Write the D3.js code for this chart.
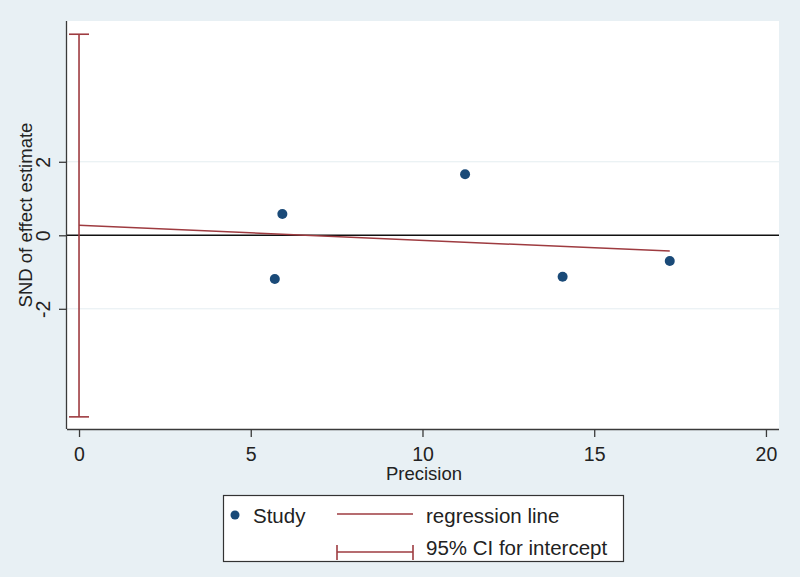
<!DOCTYPE html>
<html>
<head>
<meta charset="utf-8">
<script src="https://cdn.jsdelivr.net/npm/d3@7"></script>
<style>
  html, body { margin: 0; padding: 0; background: #e8f0f4; }
  svg { display: block; }
  text { font-family: "Liberation Sans", Arial, Helvetica, sans-serif; fill: #222; }
</style>
</head>
<body>
<svg id="chart" width="800" height="577"></svg>
<script>
// ---- data ----
const precision = [5.70, 5.92, 11.24, 14.08, 17.20];
const snd       = [-1.19, 0.58, 1.66, -1.13, -0.70];
const regX      = [0, 17.2];
const regY      = [0.27, -0.43];
const ciBounds  = [-4.94, 5.47];
const xTicks    = [0, 5, 10, 15, 20];
const yTicks    = [-2, 0, 2];
const legendLabels = ["Study", "regression line", "95% CI for intercept"];

// ---- layout ----
const W = 800, H = 577;
const plot = { left: 67, right: 779, top: 21, bottom: 429 };
const red = "#9e3b40", navy = "#1a4a78", axisCol = "#3a3a3a";

const svg = d3.select("#chart");
svg.append("rect").attr("width", W).attr("height", H).attr("fill", "#e8f0f4");
svg.append("rect")
  .attr("x", plot.left).attr("y", plot.top)
  .attr("width", plot.right - plot.left).attr("height", plot.bottom - plot.top)
  .attr("fill", "#ffffff");

const x = d3.scaleLinear().domain([-0.35, 20.38]).range([plot.left, plot.right]);
const y = d3.scaleLinear().domain([-5.27, 5.83]).range([plot.bottom, plot.top]);
const fmt = d => String(d);

// gridlines
svg.append("g").selectAll("line").data(yTicks.filter(d => d !== 0)).join("line")
  .attr("x1", plot.left).attr("x2", plot.right)
  .attr("y1", d => y(d)).attr("y2", d => y(d))
  .attr("stroke", "#e4edf1").attr("stroke-width", 1);

// zero line
svg.append("line")
  .attr("x1", plot.left).attr("x2", plot.right)
  .attr("y1", y(0)).attr("y2", y(0))
  .attr("stroke", "#111").attr("stroke-width", 1.6);

// regression line
const line = d3.line().x(d => x(d[0])).y(d => y(d[1]));
svg.append("path")
  .datum(regX.map((v, i) => [v, regY[i]]))
  .attr("d", line).attr("fill", "none")
  .attr("stroke", red).attr("stroke-width", 1.5);

// CI for intercept
const ci = svg.append("g").attr("stroke", red).attr("stroke-width", 1.6);
ci.append("line").attr("x1", x(0)).attr("x2", x(0))
  .attr("y1", y(ciBounds[0])).attr("y2", y(ciBounds[1]));
ci.selectAll("line.cap").data(ciBounds).join("line").attr("class", "cap")
  .attr("x1", x(0) - 10).attr("x2", x(0) + 10)
  .attr("y1", d => y(d)).attr("y2", d => y(d));

// points
svg.append("g").selectAll("circle").data(precision).join("circle")
  .attr("cx", d => x(d)).attr("cy", (d, i) => y(snd[i]))
  .attr("r", 5).attr("fill", navy);

// x axis
const xAxis = svg.append("g").attr("transform", `translate(0,${plot.bottom})`)
  .call(d3.axisBottom(x).tickValues(xTicks).tickSize(8).tickPadding(10).tickFormat(fmt));
xAxis.select(".domain").attr("d", `M${plot.left},0.5H${plot.right}`).attr("stroke", axisCol).attr("stroke-width", 1.3);
xAxis.selectAll(".tick line").attr("stroke", axisCol).attr("stroke-width", 1.3);
xAxis.selectAll(".tick text").attr("font-size", 19.5).attr("fill", "#222")
  .attr("font-family", "Liberation Sans, Arial, sans-serif")
  .attr("dy", null).attr("y", 32);

// y axis
const yAxis = svg.append("g").attr("transform", `translate(${plot.left},0)`)
  .call(d3.axisLeft(y).tickValues(yTicks).tickSize(8).tickFormat(fmt));
yAxis.select(".domain").attr("d", `M-0.5,${plot.top}V${plot.bottom}`).attr("stroke", axisCol).attr("stroke-width", 1.3);
yAxis.selectAll(".tick line").attr("stroke", axisCol).attr("stroke-width", 1.3);
yAxis.selectAll(".tick text").attr("font-size", 19.5).attr("fill", "#222")
  .attr("font-family", "Liberation Sans, Arial, sans-serif")
  .attr("x", null).attr("dy", null)
  .attr("text-anchor", "middle")
  .attr("transform", "translate(-17,0) rotate(-90)");

// axis titles
svg.append("text").attr("x", 424).attr("y", 480).attr("text-anchor", "middle")
  .attr("font-size", 18.5).text("Precision");
svg.append("text").attr("transform", "translate(32,215) rotate(-90)")
  .attr("text-anchor", "middle").attr("font-size", 18.5).text("SND of effect estimate");

// legend
const lg = svg.append("g");
lg.append("rect").attr("x", 223.5).attr("y", 495.5).attr("width", 400).attr("height", 66)
  .attr("fill", "#ffffff").attr("stroke", "#333").attr("stroke-width", 1.2);
lg.append("circle").attr("cx", 235).attr("cy", 515).attr("r", 4.5).attr("fill", navy);
lg.append("text").attr("x", 253).attr("y", 523).attr("font-size", 20.5).text(legendLabels[0]);
lg.append("line").attr("x1", 337).attr("x2", 413).attr("y1", 514).attr("y2", 514)
  .attr("stroke", red).attr("stroke-width", 1.6);
lg.append("text").attr("x", 426).attr("y", 523).attr("font-size", 20.5).text(legendLabels[1]);
const lci = lg.append("g").attr("stroke", red).attr("stroke-width", 1.6);
lci.append("line").attr("x1", 337).attr("x2", 413).attr("y1", 552).attr("y2", 552);
lci.append("line").attr("x1", 337).attr("x2", 337).attr("y1", 545).attr("y2", 560);
lci.append("line").attr("x1", 413).attr("x2", 413).attr("y1", 545).attr("y2", 560);
lg.append("text").attr("x", 426).attr("y", 555).attr("font-size", 20.5).text(legendLabels[2]);
</script>
</body>
</html>
